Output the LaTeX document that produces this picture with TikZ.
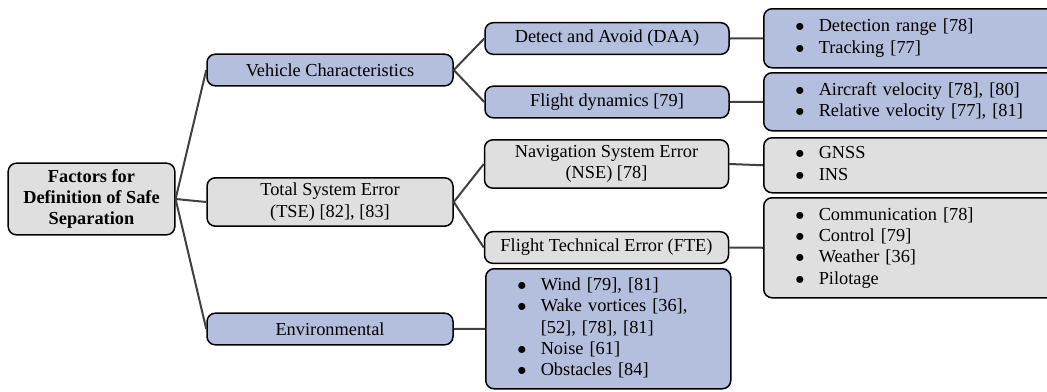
\documentclass[tikz,border=0pt]{standalone}
\usepackage{fontspec}
\setmainfont{Liberation Serif}
\usetikzlibrary{shapes,positioning,calc}
\usepackage{xcolor}
\definecolor{factgray}{RGB}{223,223,223}
\definecolor{factblue}{RGB}{180,190,221}
\definecolor{linkgray}{RGB}{64,64,64}
\newcommand{\bulletlist}[1]{\begin{tabular}{@{}l@{}l@{}}#1\end{tabular}}
\newcommand{\itm}{\makebox[14pt][l]{$\bullet$}}

\begin{document}
\begin{tikzpicture}[x=0.6pt, y=-0.6pt,
    block/.style={rectangle, draw, line width=0.9pt, rounded corners=5pt, text centered, inner sep=2pt, font=\fontsize{11}{12.8}\selectfont},
    rootblock/.style={block, fill=factgray, minimum width=100pt, minimum height=43pt, align=center, font=\fontsize{11}{12.8}\selectfont\bfseries},
    catblock/.style={block, minimum width=147.6pt, minimum height=19pt, align=center},
    subblock/.style={block, minimum width=146.4pt, minimum height=19pt, align=center},
    listblock/.style={block, anchor=north west, inner xsep=19pt, text width=150pt, align=left},
    link/.style={draw=linkgray, line width=1.2pt}]
    \useasboundingbox (0,0) rectangle (1047,391);
    % root and first level
    \node [rootblock] (root) at (91.5,199) {Factors for\\Definition of Safe\\Separation};
    \node [catblock, fill=factblue] (vehicle) at (330,70) {Vehicle Characteristics};
    \node [catblock, fill=factgray, minimum height=29pt] (tse) at (330,202) {Total System Error\\(TSE) [82], [83]};
    \node [catblock, fill=factblue] (environ) at (330,329) {Environmental};
    % second level
    \node [subblock, fill=factblue] (daa) at (607,38.5) {Detect and Avoid (DAA)};
    \node [subblock, fill=factblue] (dynamics) at (607,102) {Flight dynamics [79]};
    \node [subblock, fill=factgray, minimum height=29pt] (nse) at (606.5,164) {Navigation System Error\\(NSE) [78]};
    \node [subblock, fill=factgray, inner xsep=0pt] (fte) at (606.5,247.5) {Flight Technical Error (FTE)};
    % lists
    \node [listblock, fill=factblue, minimum height=35.4pt] (daalist) at (763,8)
        {\bulletlist{\itm & Detection range [78]\\ \itm & Tracking [77]}};
    \node [listblock, fill=factblue, minimum height=34.8pt] (dynlist) at (763,72)
        {\bulletlist{\itm & Aircraft velocity [78], [80]\\ \itm & Relative velocity [77], [81]}};
    \node [listblock, fill=factgray, minimum height=33pt] (nselist) at (763,137)
        {\bulletlist{\itm & GNSS\\ \itm & INS}};
    \node [listblock, fill=factgray, minimum height=60pt] (ftelist) at (763,197)
        {\bulletlist{\itm & Communication [78]\\ \itm & Control [79]\\ \itm & Weather [36]\\ \itm & Pilotage}};
    \node [listblock, fill=factblue, text width=109pt, minimum height=72pt] (envlist) at (485,268)
        {\bulletlist{\itm & Wind [79], [81]\\ \itm & Wake vortices [36],\\ & [52], [78], [81]\\ \itm & Noise [61]\\ \itm & Obstacles [84]}};
    % connectors
    \draw [link] (root.east) -- (vehicle.west);
    \draw [link] (root.east) -- (tse.west);
    \draw [link] (root.east) -- (environ.west);
    \draw [link] (vehicle.east) -- (daa.west);
    \draw [link] (vehicle.east) -- (dynamics.west);
    \draw [link] (tse.east) -- (nse.west);
    \draw [link] (tse.east) -- (fte.west);
    \draw [link] (daa.east) -- (daalist.west);
    \draw [link] (dynamics.east) -- (dynlist.west);
    \draw [link] (nse.east) -- (nselist.west);
    \draw [link] (fte.east) -- (ftelist.west);
    \draw [link] (environ.east) -- (envlist.west);
\end{tikzpicture}
\end{document}
